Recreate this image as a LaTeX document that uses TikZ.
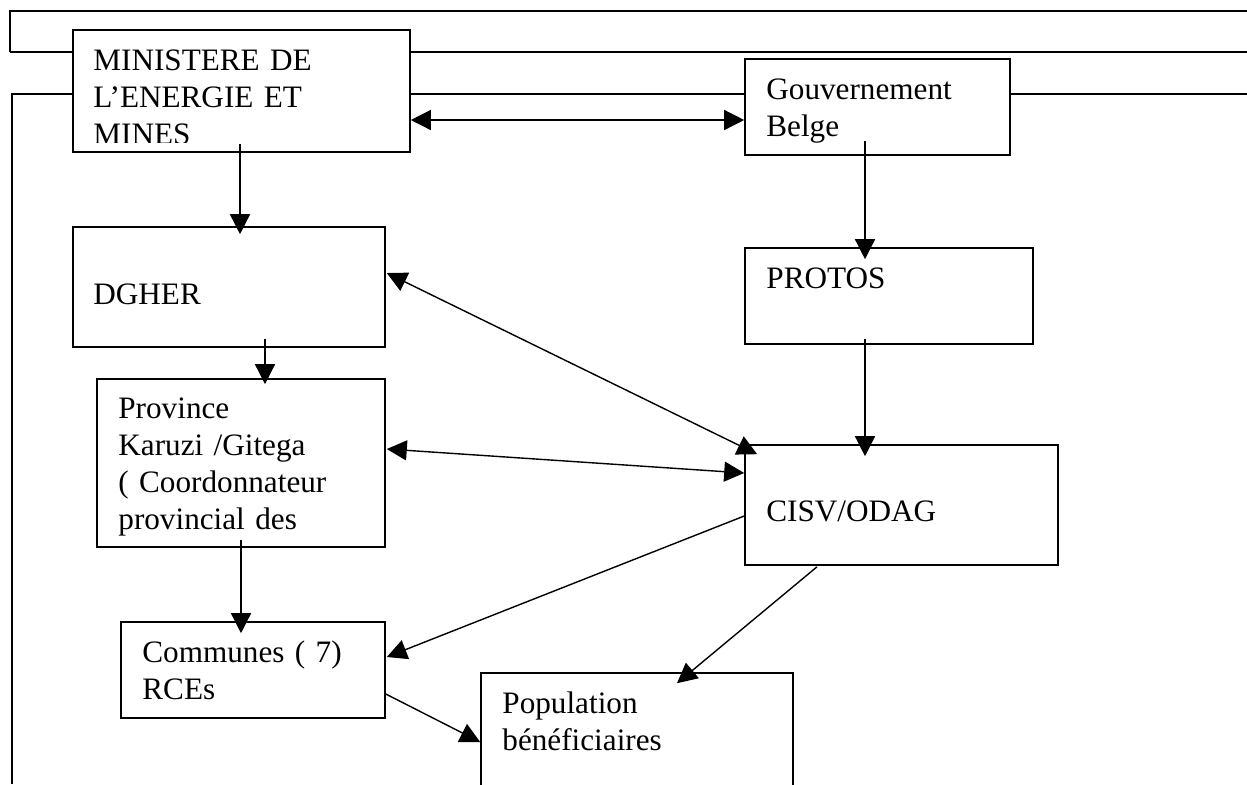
\documentclass[tikz,border=0pt]{standalone}
\usepackage{fontspec}
\setmainfont{Liberation Serif}
\usetikzlibrary{
    arrows.meta,
    calc
}

\begin{document}
\begin{tikzpicture}[
    x=0.5pt,
    y=-0.5pt,
    >={Triangle[length=10pt,width=10pt]},
    block/.style={
        rectangle,
        draw,
        fill=white,
        line width=0.8pt,
        inner sep=0pt
    },
    txt/.style={
        anchor=base west,
        inner sep=0pt,
        text width=160pt,
        align=left,
        font=\fontsize{15.6pt}{18.6pt}\selectfont
    },
    frame/.style={line width=1.4pt},
    link/.style={line width=0.7pt}
]
\useasboundingbox (0,0) rectangle (1247,784);

%--------------------------------------------------
% frame lines behind the boxes
\draw[frame] (10,52) -- (10,11) -- (1247,11);
\draw[frame] (10,52) -- (1247,52);
\draw[frame] (12,784) -- (12,94) -- (1247,94);

%--------------------------------------------------
\node[block,minimum width=168.5pt,minimum height=61pt] (mines) at (241.5,91) {};
\begin{scope}
\clip (73,30) rectangle (410,142);
\node[txt] (mines_t) at (93,70)
{
MINISTERE DE\\
L’ENERGIE ET\\
MINES
};
\end{scope}

\node[block,minimum width=132.5pt,minimum height=48pt] (gouv) at (877.5,107) {};
\node[txt] (gouv_t) at (766,99)
{
Gouvernement\\
Belge
};

\node[block,minimum width=156pt,minimum height=60pt] (dgher) at (229,287) {};
\node[txt] (dgher_t) at (93,304)
{
DGHER
};

\node[block,minimum width=144pt,minimum height=48pt] (protos) at (889,296) {};
\node[txt] (protos_t) at (766,288)
{
PROTOS
};

\node[block,minimum width=144pt,minimum height=84pt] (province) at (241,463) {};
\node[txt] (province_t) at (118,418)
{
Province\\
Karuzi /Gitega\\
( Coordonnateur\\
provincial des
};

\node[block,minimum width=156.5pt,minimum height=60pt] (cisv) at (901.5,505) {};
\node[txt] (cisv_t) at (766,521)
{
CISV/ODAG
};

\node[block,minimum width=132pt,minimum height=48pt] (communes) at (253,670) {};
\node[txt] (communes_t) at (142,662)
{
Communes ( 7)\\
RCEs
};

\node[block,minimum width=156pt,minimum height=60pt] (population) at (637,733) {};
\node[txt] (population_t) at (502,713)
{
Population\\
bénéficiaires
};

%--------------------------------------------------
\draw[link,<->] ($(mines.east)+(0,29)$) -- ($(gouv.west)+(0,13)$);
\draw[link,->] ($(mines.south)+(-1.5,-9)$) -- ($(dgher.north)+(11,8)$);
\draw[link,->] ($(dgher.south)+(36,-9)$) -- ($(province.north)+(24,6)$);
\draw[link,->] ($(province.south)+(0,-8)$) -- ($(communes.north)+(-12,12)$);

\draw[link,->] ($(gouv.south)+(-12.5,-15)$) -- ($(protos.north)+(-24,12)$);
\draw[link,->] ($(protos.south)+(-24,-6)$) -- ($(cisv.north)+(-36.5,12)$);

\draw[link,<->] ($(dgher.east)+(1,-14)$) -- ($(cisv.north west)+(13,10)$);
\draw[link,<->] ($(province.east)+(1,-14)$) -- ($(cisv.west)+(0,-32)$);

\draw[link,->] ($(cisv.west)+(0,11)$) -- ($(communes.east)+(1,-13)$);
\draw[link,->] ($(cisv.south)+(-84.5,1)$) -- ($(population.north)+(40,11)$);
\draw[link,->] ($(communes.east)+(0,24)$) -- ($(population.west)+(0,9)$);

\end{tikzpicture}
\end{document}
